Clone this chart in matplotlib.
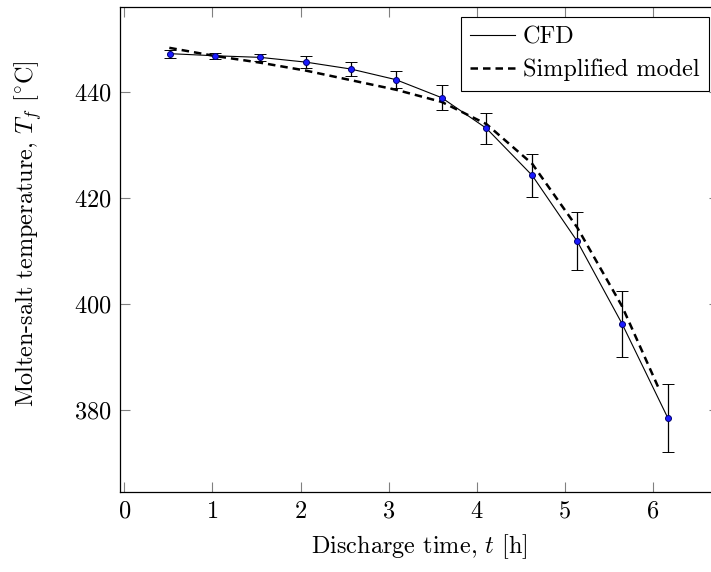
import numpy as np
import matplotlib
matplotlib.use("Agg")
import matplotlib.pyplot as plt

plt.rcParams["font.family"] = "serif"
plt.rcParams["font.serif"] = ["cmr10", "DejaVu Serif"]
plt.rcParams["mathtext.fontset"] = "cm"
plt.rcParams["axes.formatter.use_mathtext"] = True

# CFD results with error bars
t_cfd = [0.514, 1.03, 1.54, 2.06, 2.57, 3.08, 3.60, 4.11, 4.63, 5.14, 5.65, 6.17]
T_cfd = [447.3, 446.9, 446.6, 445.7, 444.4, 442.4, 439.0, 433.2, 424.3, 411.9, 396.3, 378.5]
T_err = [0.75, 0.6, 0.7, 1.15, 1.35, 1.65, 2.3, 2.95, 4.0, 5.45, 6.2, 6.4]

# simplified model curve
t_model = [0.51, 1.03, 1.54, 2.06, 2.57, 3.08, 3.60, 4.11, 4.63, 5.14, 5.65, 6.08]
T_model = [448.4, 446.85, 445.6, 444.1, 442.3, 440.5, 438.2, 434.0, 426.5, 414.5, 399.6, 383.6]

xticks = [0, 1, 2, 3, 4, 5, 6]
yticks = [380, 400, 420, 440]

FS = 17.5

fig = plt.figure(figsize=(7.11, 5.72), dpi=100)
ax = fig.add_axes([120 / 711, 79.7 / 572, 599 / 711, 485.8 / 572])

ax.plot(t_cfd, T_cfd, color="black", lw=0.8, label="CFD", zorder=3)
ax.plot(t_model, T_model, color="black", lw=1.8, ls=(0, (3.0, 2.0)),
        label="Simplified model", zorder=2)
ax.errorbar(t_cfd, T_cfd, yerr=T_err, fmt="o", color="black", ecolor="black",
            elinewidth=0.9, capsize=4, capthick=0.9, ms=4.3,
            mfc="#1a1aff", mec="#000070", mew=0.7, zorder=4)

ax.set_xlim(-0.05, 6.75)
ax.set_ylim(364.5, 456.2)
ax.set_xticks(xticks)
ax.set_yticks(yticks)
ax.tick_params(direction="in", top=True, right=True, length=7, width=0.8,
               color="0.5", labelsize=FS, pad=6)
for s in ax.spines.values():
    s.set_linewidth(0.9)

ax.set_xlabel("Discharge time, $t$ [h]", fontsize=FS, labelpad=7)
ax.set_ylabel("Molten-salt temperature, $T_f$ $[^{\\circ}\\mathrm{C}]$", fontsize=FS,
              labelpad=22)
ax.yaxis.label.set_y(0.533)

leg = ax.legend(loc="upper right", bbox_to_anchor=(709 / 711, 1 - 17 / 572),
                bbox_transform=fig.transFigure, borderaxespad=0, fontsize=FS,
                fancybox=False, framealpha=1, edgecolor="black",
                handlelength=1.85, handletextpad=0.3, borderpad=0.4,
                labelspacing=0.4)
leg.get_frame().set_linewidth(0.8)

fig.savefig("out.png", dpi=100)
